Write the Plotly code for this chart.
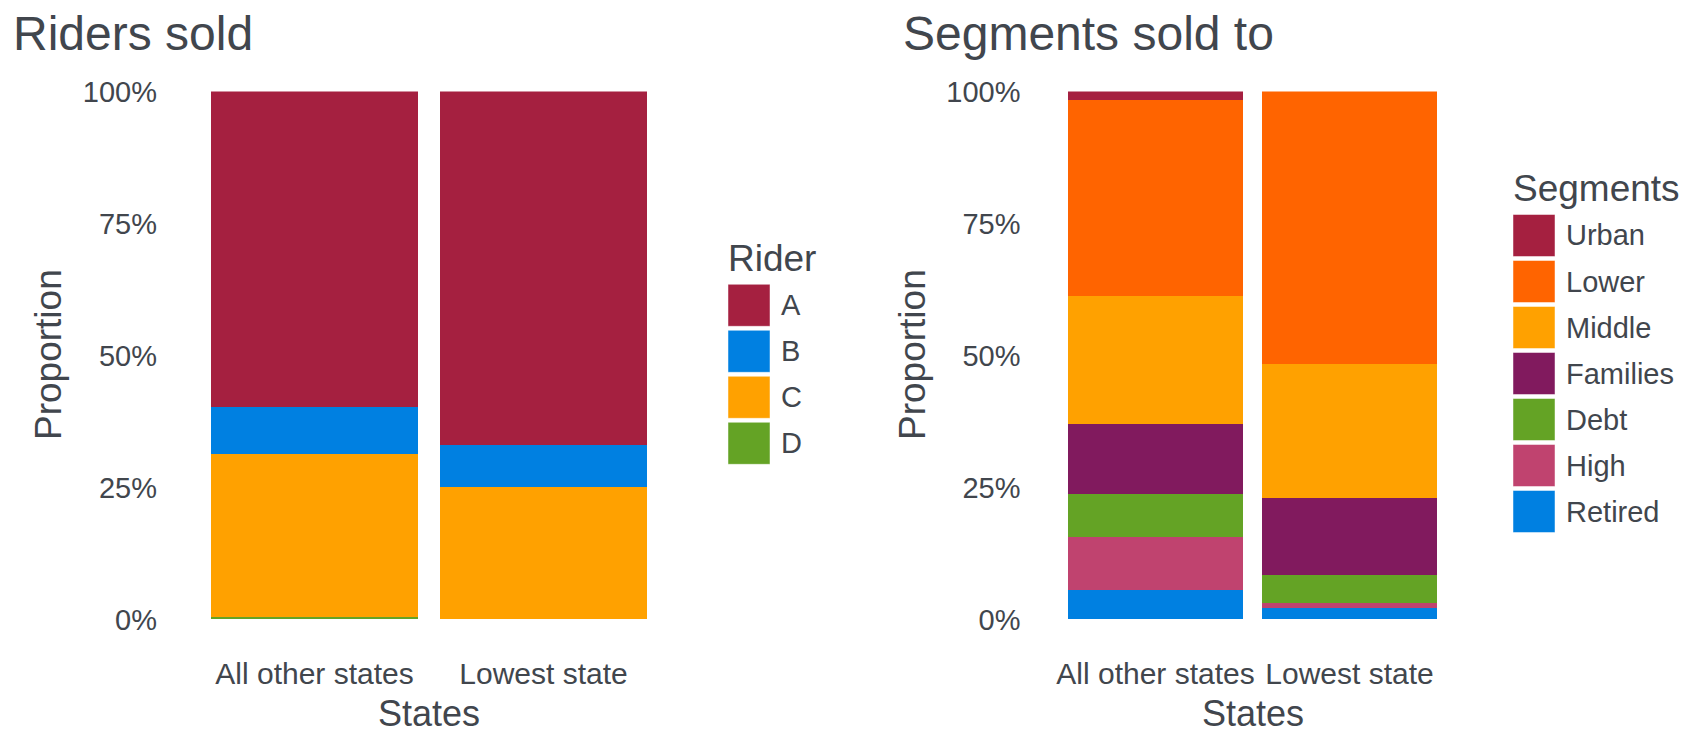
import plotly.graph_objects as go

W, H = 1686, 734

states = ["All other states", "Lowest state"]

# Share of riders sold in each state group (percent)
rider_names = ["A", "B", "C", "D"]
rider_A = [59.7, 66.9]
rider_B = [8.9, 8.1]
rider_C = [30.9, 25.0]
rider_D = [0.5, 0.0]

# Share of customer segments sold to in each state group (percent)
segment_names = ["Urban", "Lower", "Middle", "Families", "Debt", "High", "Retired"]
seg_urban = [1.6, 0.0]
seg_lower = [37.1, 51.7]
seg_middle = [24.3, 25.4]
seg_families = [13.2, 14.5]
seg_debt = [8.1, 5.2]
seg_high = [10.1, 1.1]
seg_retired = [5.6, 2.1]

y_ticks = [0, 0.25, 0.5, 0.75, 1.0]
y_tick_labels = ["0%", "25%", "50%", "75%", "100%"]

rider_colors = {"A": "#A52040", "B": "#0080E1", "C": "#FFA100", "D": "#64A325"}
segment_colors = {
    "Urban": "#A52040", "Lower": "#FF6400", "Middle": "#FFA100",
    "Families": "#811A5E", "Debt": "#64A325", "High": "#C0436F",
    "Retired": "#0080E1",
}

FONT = "Liberation Sans, Arial, Helvetica, sans-serif"
TXT = "#41464d"


def px(x):
    return x / W


def py(y):
    return 1 - y / H


rider_values = {"A": rider_A, "B": rider_B, "C": rider_C, "D": rider_D}
segment_values = {
    "Urban": seg_urban, "Lower": seg_lower, "Middle": seg_middle,
    "Families": seg_families, "Debt": seg_debt, "High": seg_high,
    "Retired": seg_retired,
}

fig = go.Figure()

# stacked bottom-up: last legend entry sits at the bottom of the bar
for name in reversed(rider_names):
    fig.add_trace(go.Bar(
        x=states, y=[v / 100 for v in rider_values[name]], name=name,
        marker=dict(color=rider_colors[name], line=dict(width=0)),
        width=0.9, xaxis="x", yaxis="y", showlegend=False,
    ))

for name in reversed(segment_names):
    fig.add_trace(go.Bar(
        x=states, y=[v / 100 for v in segment_values[name]], name=name,
        marker=dict(color=segment_colors[name], line=dict(width=0)),
        width=0.9, xaxis="x2", yaxis="y2", showlegend=False,
    ))

y_dom = [py(619.4), py(91.4)]
common_x = dict(
    type="category", range=[-0.5, 1.5], showgrid=False, zeroline=False,
    showline=False, ticks="", ticklabelstandoff=34, automargin=False,
    tickfont=dict(family=FONT, size=30, color=TXT),
)
common_y = dict(
    range=[0, 1], showgrid=False, zeroline=False, showline=False, ticks="",
    tickvals=y_ticks, ticktext=y_tick_labels, automargin=False,
    tickfont=dict(family=FONT, size=29, color=TXT),
)

fig.update_layout(
    width=W, height=H,
    margin=dict(l=0, r=0, t=0, b=0, autoexpand=False),
    paper_bgcolor="white", plot_bgcolor="white",
    barmode="stack",
    xaxis=dict(domain=[px(200), px(658)], anchor="y", **common_x),
    yaxis=dict(domain=y_dom, anchor="x", ticklabelstandoff=42, **common_y),
    xaxis2=dict(domain=[px(1058.5), px(1446.5)], anchor="y2", **common_x),
    yaxis2=dict(domain=y_dom, anchor="x2", ticklabelstandoff=37, **common_y),
)

annotations = []
shapes = []


def text(x, y, s, size, xanchor="center", angle=0):
    annotations.append(dict(
        x=px(x), y=py(y), xref="paper", yref="paper", text=s, showarrow=False,
        xanchor=xanchor, yanchor="middle", textangle=angle,
        font=dict(family=FONT, size=size, color=TXT),
    ))


# panel titles
text(11, 33, "Riders sold", 48, xanchor="left")
text(901, 33, "Segments sold to", 48, xanchor="left")

# axis titles
text(48, 355, "Proportion", 37, angle=-90)
text(912, 355, "Proportion", 37, angle=-90)
text(429, 713, "States", 36)
text(1252.5, 713, "States", 36)


def legend(x0, title_y, first_y, title, names, colors):
    text(x0 - 2, title_y, title, 37, xanchor="left")
    for i, name in enumerate(names):
        cy = first_y + 46 * i
        shapes.append(dict(
            type="rect", xref="paper", yref="paper",
            x0=px(x0), x1=px(x0 + 42), y0=py(cy + 21), y1=py(cy - 21),
            fillcolor=colors[name], line=dict(width=0.8, color="rgba(255,255,255,0.6)"),
        ))
        text(x0 + 51, cy, name, 29, xanchor="left")


legend(728, 258, 305.3, "Rider", rider_names, rider_colors)
legend(1513, 188, 235.5, "Segments", segment_names, segment_colors)

fig.update_layout(annotations=annotations, shapes=shapes)

fig.write_html("out.html")
